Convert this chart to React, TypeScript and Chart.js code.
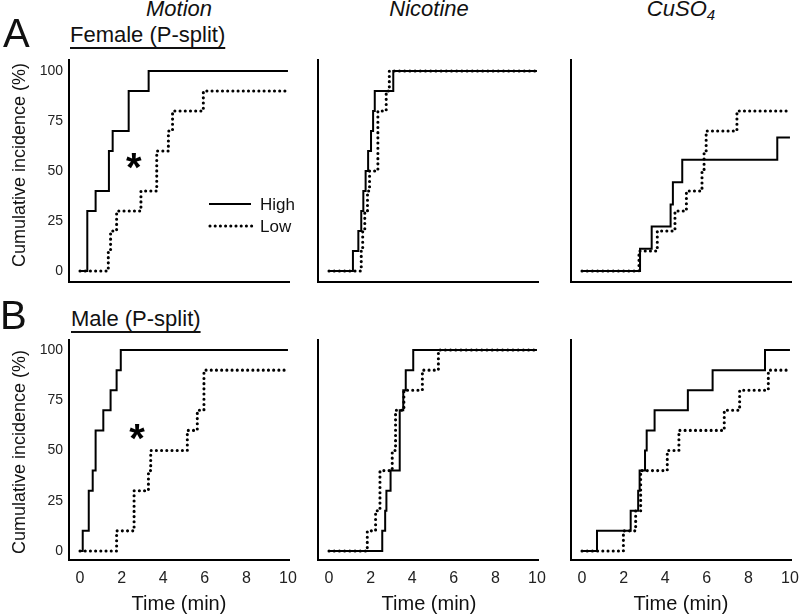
import React, { useEffect, useRef } from "react";
import { Chart, registerables } from "chart.js";

Chart.register(...registerables);

// ---------- data ----------
const timeTicks = [0, 2, 4, 6, 8, 10];
const pctTicks = [0, 25, 50, 75, 100];
const seriesLabels = ["High", "Low"];
const rowLabels = ["A", "B"];
const rowTitles = ["Female (P-split)", "Male (P-split)"];
const yAxisTitle = "Cumulative incidence (%)";
const xAxisTitle = "Time (min)";

// Female (P-split)
const femMotionHighT = [0, 0.35, 0.75, 1.39, 1.57, 2.34, 3.3, 10];
const femMotionHighY = [0, 30, 40, 60, 70, 90, 100, 100];
const femMotionLowT = [0, 1.36, 1.47, 1.76, 2.93, 3.69, 4.25, 4.45, 5.93, 10];
const femMotionLowY = [0, 10, 20, 30, 40, 60, 70, 80, 90, 90];

const femNicHighT = [0, 1.15, 1.41, 1.55, 1.65, 1.76, 1.88, 2.02, 2.12, 2.2, 3.09, 10];
const femNicHighY = [0, 10, 20, 30, 40, 50, 60, 70, 80, 90, 100, 100];
const femNicLowT = [0, 1.55, 1.62, 1.72, 1.85, 1.95, 2.35, 2.75, 2.9, 10];
const femNicLowY = [0, 10, 20, 30, 40, 50, 80, 90, 100, 100];

const femCuHighT = [0, 2.79, 3.35, 4.26, 4.37, 4.82, 9.39, 10];
const femCuHighY = [0, 11.1, 22.2, 33.3, 44.4, 55.6, 66.7, 66.7];
const femCuLowT = [0, 2.74, 3.62, 4.47, 5.02, 5.77, 5.87, 5.97, 7.45, 10];
const femCuLowY = [0, 10, 20, 30, 40, 50, 60, 70, 80, 80];

// Male (P-split)
const maleMotionHighT = [0, 0.13, 0.42, 0.61, 0.75, 1.12, 1.47, 1.76, 1.96, 10];
const maleMotionHighY = [0, 10, 30, 40, 60, 70, 80, 90, 100, 100];
const maleMotionLowT = [0, 1.76, 2.6, 3.29, 3.4, 5.16, 5.64, 5.96, 10];
const maleMotionLowY = [0, 10, 30, 40, 50, 60, 70, 90, 90];

const maleNicHighT = [0, 2.56, 2.7, 2.76, 2.96, 3.4, 3.57, 3.69, 4.05, 10];
const maleNicHighY = [0, 10, 20, 30, 40, 70, 80, 90, 100, 100];
const maleNicLowT = [0, 1.84, 2.24, 2.45, 3.04, 3.2, 3.6, 4.49, 5.26, 10];
const maleNicLowY = [0, 10, 20, 40, 50, 70, 80, 90, 100, 100];

const maleCuHighT = [0, 0.72, 2.34, 2.7, 2.77, 3.03, 3.11, 3.49, 5.09, 6.28, 8.8, 10];
const maleCuHighY = [0, 10, 20, 30, 40, 50, 60, 70, 80, 90, 100, 100];
const maleCuLowT = [0, 1.99, 2.58, 2.82, 4.1, 4.66, 6.84, 7.58, 8.96, 10];
const maleCuLowY = [0, 10, 20, 40, 50, 60, 70, 80, 90, 90];

// significance marks (data coordinates)
const femMotionStar = [2.6, 55];
const maleMotionStar = [2.75, 59];

// ---------- layout / style ----------
const FONT = '"Liberation Sans", Arial, Helvetica, sans-serif';
const COL_LEFT = [69, 318, 571];
const COL_CENTER = [179, 429, 681];
const ROW_TOP = [60, 340];
const ROW_H = [222, 220];
const ROW_YRANGE = [
  [-5.5, 105.5],
  [-4.5, 105],
];
const PLOT_W = 220;
const DOT_DASH = [0.001, 5.2];
const DOT_WIDTH = 3.1;

type Pt = { x: number; y: number };
const toPts = (t: number[], y: number[]): Pt[] => t.map((x, i) => ({ x, y: y[i] }));

const annotPlugin = {
  id: "annot",
  afterDatasetsDraw(chart: any, _args: any, opts: any) {
    const { ctx, chartArea, scales } = chart;
    ctx.save();
    ctx.fillStyle = "#000";
    if (opts && opts.star) {
      ctx.font = `bold 40px ${FONT}`;
      ctx.textAlign = "left";
      ctx.textBaseline = "alphabetic";
      const m = ctx.measureText("*");
      const px = scales.x.getPixelForValue(opts.star[0]);
      const py = scales.y.getPixelForValue(opts.star[1]);
      const w = m.actualBoundingBoxRight + m.actualBoundingBoxLeft;
      ctx.fillText(
        "*",
        px - w / 2 + m.actualBoundingBoxLeft,
        py + (m.actualBoundingBoxAscent - m.actualBoundingBoxDescent) / 2
      );
    }
    if (opts && opts.legend) {
      const l = chartArea.left;
      const t = chartArea.top;
      const ds = chart.data.datasets;
      ctx.strokeStyle = "#000";
      ctx.lineWidth = 2;
      ctx.setLineDash([]);
      ctx.lineCap = "butt";
      ctx.beginPath();
      ctx.moveTo(l + 140, t + 144);
      ctx.lineTo(l + 182, t + 144);
      ctx.stroke();
      ctx.lineWidth = DOT_WIDTH;
      ctx.lineCap = "round";
      ctx.setLineDash(DOT_DASH);
      ctx.beginPath();
      ctx.moveTo(l + 141, t + 166);
      ctx.lineTo(l + 183, t + 166);
      ctx.stroke();
      ctx.setLineDash([]);
      ctx.font = `17px ${FONT}`;
      ctx.textAlign = "left";
      ctx.textBaseline = "middle";
      ctx.fillStyle = "#111";
      ctx.fillText(ds[0].label, l + 191, t + 145);
      ctx.fillText(ds[1].label, l + 191, t + 167);
    }
    ctx.restore();
  },
};

type PanelProps = {
  row: number;
  col: number;
  highT: number[];
  highY: number[];
  lowT: number[];
  lowY: number[];
  star?: number[];
  legend?: boolean;
};

function Panel({ row, col, highT, highY, lowT, lowY, star, legend }: PanelProps) {
  const ref = useRef<HTMLCanvasElement | null>(null);
  const yw = col === 0 ? 69 : 10;
  const padTop = 6;
  const padRight = 14;
  const xh = row === 1 ? 36 : 6;
  const width = yw + PLOT_W + padRight;
  const height = padTop + ROW_H[row] + xh;
  const left = COL_LEFT[col] - yw;
  const top = ROW_TOP[row] - padTop;

  useEffect(() => {
    if (!ref.current) return;
    const chart = new Chart(ref.current, {
      type: "line",
      data: {
        datasets: [
          {
            label: seriesLabels[0],
            data: toPts(highT, highY),
            stepped: true,
            borderColor: "#000",
            borderWidth: 2,
            pointRadius: 0,
            fill: false,
            borderCapStyle: "butt",
          },
          {
            label: seriesLabels[1],
            data: toPts(lowT, lowY),
            stepped: true,
            borderColor: "#000",
            borderWidth: DOT_WIDTH,
            borderDash: DOT_DASH,
            borderCapStyle: "round",
            pointRadius: 0,
            fill: false,
          },
        ],
      } as any,
      options: {
        animation: false,
        responsive: false,
        maintainAspectRatio: false,
        layout: { padding: { top: padTop, right: padRight, left: 0, bottom: 0 } },
        plugins: {
          legend: { display: false },
          tooltip: { enabled: false },
          annot: { star, legend },
        } as any,
        scales: {
          x: {
            type: "linear",
            min: -0.53,
            max: 10.05,
            grid: { display: false, drawTicks: false },
            border: { display: true, color: "#000", width: 2 },
            ticks: {
              display: row === 1,
              padding: 9,
              color: "#222",
              font: { size: 16, family: FONT },
              maxRotation: 0,
              autoSkip: false,
            },
            afterBuildTicks: (s: any) => {
              s.ticks = timeTicks.map((v) => ({ value: v }));
            },
            afterFit: (s: any) => {
              s.height = xh;
              s.paddingLeft = 0;
              s.paddingRight = 0;
              s.paddingTop = 0;
              s.paddingBottom = 0;
            },
          },
          y: {
            type: "linear",
            min: ROW_YRANGE[row][0],
            max: ROW_YRANGE[row][1],
            grid: { display: false, drawTicks: false },
            border: { display: true, color: "#000", width: 2 },
            ticks: {
              display: col === 0,
              padding: 6,
              color: "#222",
              font: { size: 14, family: FONT },
              autoSkip: false,
            },
            afterBuildTicks: (s: any) => {
              s.ticks = pctTicks.map((v) => ({ value: v }));
            },
            afterFit: (s: any) => {
              s.width = yw;
              s.paddingLeft = 0;
              s.paddingRight = 0;
              s.paddingTop = 0;
              s.paddingBottom = 0;
            },
          },
        },
      } as any,
      plugins: [annotPlugin as any],
    });
    return () => chart.destroy();
  }, []);

  return (
    <canvas
      ref={ref}
      width={width}
      height={height}
      style={{ position: "absolute", left, top, width, height }}
    />
  );
}

function Txt({
  x,
  baseline,
  size,
  center = true,
  style,
  children,
}: {
  x: number;
  baseline: number;
  size: number;
  center?: boolean;
  style?: React.CSSProperties;
  children: React.ReactNode;
}) {
  return (
    <div
      style={{
        position: "absolute",
        left: x,
        top: baseline - 0.8465 * size,
        fontSize: size,
        lineHeight: `${size}px`,
        whiteSpace: "nowrap",
        transform: center ? "translateX(-50%)" : undefined,
        color: "#111",
        ...style,
      }}
    >
      {children}
    </div>
  );
}

export default function App() {
  const underline: React.CSSProperties = {
    textDecoration: "underline",
    textDecorationThickness: "2px",
    textUnderlineOffset: "5px",
    textDecorationSkipInk: "none" as any,
  };
  return (
    <div
      style={{
        position: "fixed",
        left: 0,
        top: 0,
        width: 800,
        height: 616,
        background: "#fff",
        overflow: "hidden",
        fontFamily: FONT,
      }}
    >
      <Panel row={0} col={0} highT={femMotionHighT} highY={femMotionHighY} lowT={femMotionLowT} lowY={femMotionLowY} star={femMotionStar} legend />
      <Panel row={0} col={1} highT={femNicHighT} highY={femNicHighY} lowT={femNicLowT} lowY={femNicLowY} />
      <Panel row={0} col={2} highT={femCuHighT} highY={femCuHighY} lowT={femCuLowT} lowY={femCuLowY} />
      <Panel row={1} col={0} highT={maleMotionHighT} highY={maleMotionHighY} lowT={maleMotionLowT} lowY={maleMotionLowY} star={maleMotionStar} />
      <Panel row={1} col={1} highT={maleNicHighT} highY={maleNicHighY} lowT={maleNicLowT} lowY={maleNicLowY} />
      <Panel row={1} col={2} highT={maleCuHighT} highY={maleCuHighY} lowT={maleCuLowT} lowY={maleCuLowY} />

      <Txt x={COL_CENTER[0]} baseline={17} size={22} style={{ fontStyle: "italic" }}>Motion</Txt>
      <Txt x={COL_CENTER[1]} baseline={17} size={22} style={{ fontStyle: "italic" }}>Nicotine</Txt>
      <Txt x={COL_CENTER[2]} baseline={17} size={22} style={{ fontStyle: "italic" }}>
        CuSO<sub style={{ fontSize: 15, verticalAlign: "-4px", lineHeight: 0 }}>4</sub>
      </Txt>

      <Txt x={3} baseline={47} size={40} center={false}>{rowLabels[0]}</Txt>
      <Txt x={0} baseline={329} size={40} center={false}>{rowLabels[1]}</Txt>

      <Txt x={70} baseline={43} size={22} center={false} style={underline}>{rowTitles[0]}</Txt>
      <Txt x={71} baseline={327} size={22} center={false} style={underline}>{rowTitles[1]}</Txt>

      {[165, 452].map((cy, i) => (
        <div
          key={i}
          style={{
            position: "absolute",
            left: 19,
            top: cy,
            fontSize: 18,
            lineHeight: "18px",
            whiteSpace: "nowrap",
            color: "#111",
            transform: "translate(-50%, -50%) rotate(-90deg)",
          }}
        >
          {yAxisTitle}
        </div>
      ))}

      {COL_CENTER.map((cx, i) => (
        <Txt key={i} x={cx} baseline={610} size={20}>{xAxisTitle}</Txt>
      ))}
    </div>
  );
}
